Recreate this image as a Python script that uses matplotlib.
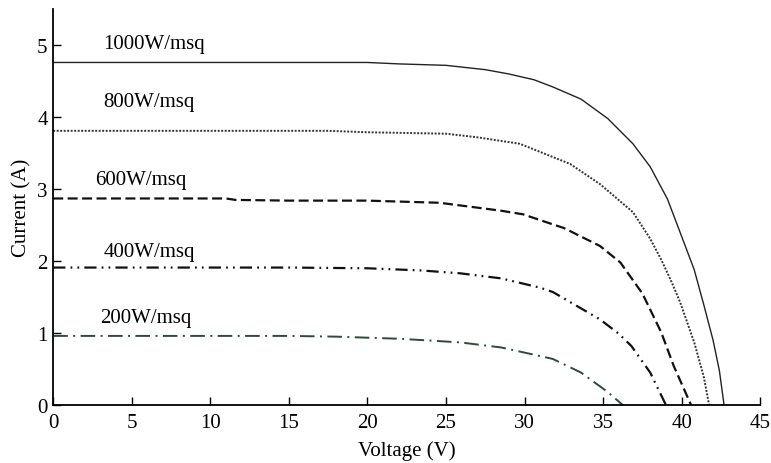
import matplotlib
matplotlib.use("Agg")
import matplotlib.pyplot as plt
import numpy as np

plt.rcParams['font.family'] = ['Liberation Serif', 'DejaVu Serif']

# Data
v1000 = [0, 5, 10, 15, 20, 22, 25, 27.5, 29, 30.6, 31.8, 33.6, 35.3, 36.9, 38.0, 39.1, 39.9, 40.8, 41.4, 42.0, 42.4, 42.7]
i1000 = [4.76, 4.76, 4.76, 4.76, 4.76, 4.74, 4.72, 4.66, 4.60, 4.52, 4.42, 4.25, 3.98, 3.63, 3.31, 2.86, 2.40, 1.88, 1.40, 0.90, 0.48, 0.0]

v800 = [0, 5, 10, 15, 17.5, 20, 25, 27, 29.7, 32.9, 34.8, 36.9, 38.0, 38.7, 39.3, 39.9, 40.8, 41.4, 41.75]
i800 = [3.81, 3.81, 3.81, 3.81, 3.81, 3.79, 3.77, 3.72, 3.63, 3.35, 3.07, 2.68, 2.31, 2.02, 1.74, 1.43, 0.87, 0.40, 0.0]

v600 = [0, 5, 11, 11.6, 15, 20, 24.6, 28.5, 29.9, 31.8, 32.5, 34.8, 36.1, 37.5, 38.7, 39.5, 40.6]
i600 = [2.87, 2.87, 2.87, 2.85, 2.84, 2.84, 2.81, 2.70, 2.65, 2.51, 2.46, 2.21, 1.98, 1.55, 1.01, 0.54, 0.0]

v400 = [0, 5, 10, 15, 20, 23.4, 25.9, 28.5, 31.0, 31.8, 34.8, 36.0, 36.8, 38.0, 39.0]
i400 = [1.91, 1.91, 1.91, 1.91, 1.90, 1.87, 1.83, 1.76, 1.63, 1.57, 1.19, 0.99, 0.82, 0.45, 0.0]

v200 = [0, 5, 10, 15, 18, 22.1, 25.9, 28.5, 31.0, 31.8, 33.6, 35.3, 36.25]
i200 = [0.96, 0.96, 0.96, 0.96, 0.95, 0.92, 0.87, 0.80, 0.68, 0.64, 0.45, 0.18, 0.0]

labels = ["1000W/msq", "800W/msq", "600W/msq", "400W/msq", "200W/msq"]
label_x = [3.2, 3.2, 2.7, 3.2, 3.0]
label_y = [5.03, 4.22, 3.14, 2.14, 1.22]

fig = plt.figure(figsize=(7.71, 4.64), dpi=100)
ax = fig.add_axes([0.069, 0.125, 0.917, 0.853])

ax.plot(v1000, i1000, color='#222222', lw=1.0, ls='-')
ax.plot(v800, i800, color='#333333', lw=1.4, ls=(0, (1, 0.8)))
ax.plot(v600, i600, color='#111111', lw=1.6, ls=(0, (4.5, 2)))
ax.plot(v400, i400, color='#111111', lw=1.6, ls=(0, (5.5, 2.3, 0.8, 2.3, 0.8, 2.3)))
ax.plot(v200, i200, color='#2e4a3a', lw=1.4, ls=(0, (7.5, 2.8, 1, 2.8)))

for t, x, y in zip(labels, label_x, label_y):
    ax.text(x, y, t, fontsize=15, ha='left', va='center')

ax.set_xlim(0, 45)
ax.set_ylim(0, 5.5)
ax.set_xticks(np.arange(0, 46, 5))
ax.set_yticks(np.arange(0, 6, 1))
ax.spines['top'].set_visible(False)
ax.spines['right'].set_visible(False)
ax.spines['left'].set_linewidth(1.3)
ax.spines['bottom'].set_linewidth(1.3)
ax.tick_params(direction='in', length=6, width=1.0, labelsize=15)
ax.tick_params(axis='x', pad=6)
ax.tick_params(axis='y', pad=4)
ax.set_xlabel('Voltage (V)', fontsize=15, labelpad=6)
ax.set_ylabel('Current (A)', fontsize=15, labelpad=4)

fig.savefig('out.png', dpi=100)
